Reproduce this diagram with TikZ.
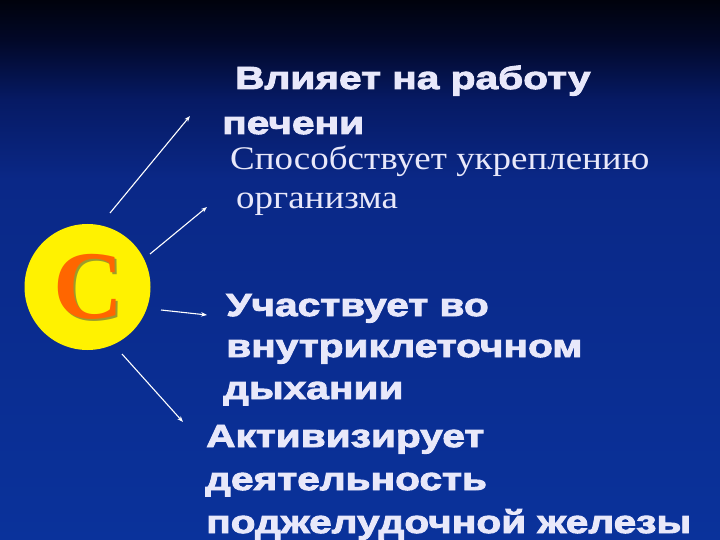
\documentclass[tikz,border=0pt]{standalone}
\usepackage{fontspec}
\setmainfont{Liberation Serif}
\newfontfamily\heavy{Liberation Sans}[BoldFeatures={FakeBold=3,FakeStretch=1.27}]
\newfontfamily\serifru{Liberation Serif}[FakeStretch=1.12]
\newfontfamily\serifc{Liberation Serif}
\usetikzlibrary{arrows.meta}
\definecolor{bgA}{RGB}{0,2,12}
\definecolor{bgB}{RGB}{2,8,40}
\definecolor{bgC}{RGB}{6,26,100}
\definecolor{bgD}{RGB}{10,40,135}
\definecolor{bgE}{RGB}{10,50,155}
\definecolor{txtcol}{RGB}{232,232,250}
\definecolor{corange}{RGB}{255,102,0}
\definecolor{cshadow}{RGB}{156,156,44}
\pgfdeclareverticalshading{slidebg}{100bp}{color(0bp)=(bgE); color(25bp)=(bgE); color(58.3bp)=(bgD); color(65.7bp)=(bgC); color(71.3bp)=(bgB); color(75bp)=(bgA); color(100bp)=(bgA)}
\newcommand\shadowed[2]{\makebox[0pt][l]{\raisebox{-2pt}{\hspace{2pt}\textcolor{#1}{#2}}}#2}
\tikzset{
  txt/.style={anchor=base west, inner sep=0pt, text=txtcol},
  boldtxt/.style={font=\heavy\bfseries\fontsize{32}{38}\selectfont},
  seriftxt/.style={font=\serifru\fontsize{33}{38}\selectfont},
  arr/.style={draw=white, line width=1.1pt, -{Stealth[length=6pt,width=4.5pt]}},
}
\begin{document}
\begin{tikzpicture}[x=1pt,y=-1pt]
\useasboundingbox (0,0) rectangle (720,540);
\shade[shading=slidebg] (0,0) rectangle (720,540);
% vitamin C
\node[circle, fill=yellow, minimum size=126pt, inner sep=0pt] (sun) at (87.5,287) {};
\node[inner sep=0pt, text=corange, font=\serifc\bfseries\fontsize{97}{100}\selectfont] (cletter) at (89,288) {\shadowed{cshadow}{C}};
% arrows
\coordinate (a1s) at (110,213); \coordinate (a1e) at (190,116);
\coordinate (a2s) at (150,254); \coordinate (a2e) at (207,207);
\coordinate (a3s) at (161,310); \coordinate (a3e) at (207,315);
\coordinate (a4s) at (122,354); \coordinate (a4e) at (183,422);
\draw[arr] (a1s) -- (a1e);
\draw[arr] (a2s) -- (a2e);
\draw[arr] (a3s) -- (a3e);
\draw[arr] (a4s) -- (a4e);
% texts
\node[txt,boldtxt] (t1) at (235,89) {Влияет на работу};
\node[txt,boldtxt] (t2) at (222,134) {печени};
\node[txt,seriftxt] (t3) at (230,170) {Способствует укреплению};
\node[txt,seriftxt] (t4) at (236,208) {организма};
\node[txt,boldtxt] (t5) at (226,316) {Участвует во};
\node[txt,boldtxt] (t6) at (226,357) {внутриклеточном};
\node[txt,boldtxt] (t7) at (223,399) {дыхании};
\node[txt,boldtxt] (t8) at (206,447) {Активизирует};
\node[txt,boldtxt] (t9) at (205,490) {деятельность};
\node[txt,boldtxt] (t10) at (206,533) {поджелудочной железы};
\end{tikzpicture}
\end{document}
